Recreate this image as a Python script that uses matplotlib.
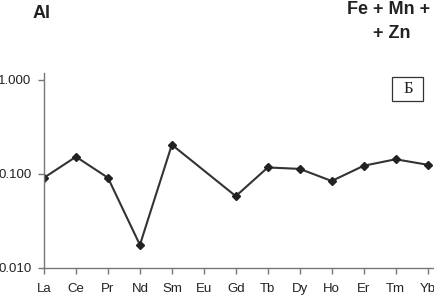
import matplotlib
matplotlib.use("Agg")
import matplotlib.pyplot as plt
from matplotlib.patches import Rectangle
import numpy as np

plt.rcParams["font.family"] = ["Liberation Sans", "DejaVu Sans"]

# ─── data ───
elements = ["La", "Ce", "Pr", "Nd", "Sm", "Eu", "Gd", "Tb", "Dy", "Ho", "Er", "Tm", "Yb"]
values = [0.091, 0.152, 0.091, 0.0176, 0.204, None, 0.058, 0.117, 0.113, 0.084, 0.122, 0.143, 0.125]
yticks = [0.01, 0.1, 1.0]
ytick_labels = ["0.010", "0.100", "1.000"]

fig = plt.figure(figsize=(4.34, 2.96), dpi=100)
ax = fig.add_axes([44 / 434, 28 / 296, 390 / 434, 195 / 296])

x = [i for i, v in enumerate(values) if v is not None]
y = [v for v in values if v is not None]
ax.plot(x, y, color="#333333", lw=1.5, marker="D", ms=4,
        mfc="#222222", mec="#222222")

ax.set_yscale("log")
ax.set_ylim(0.01, 1.18)
ax.set_xlim(0, 12.2)
ax.set_yticks(yticks)
ax.set_yticklabels(ytick_labels)
ax.yaxis.set_minor_locator(matplotlib.ticker.NullLocator())
ax.set_xticks(range(len(elements)))
ax.set_xticklabels(elements)

for s in ["top", "right"]:
    ax.spines[s].set_visible(False)
for s in ["left", "bottom"]:
    ax.spines[s].set_color("#777777")
    ax.spines[s].set_linewidth(1.0)
ax.tick_params(axis="both", colors="#777777", labelcolor="#222222",
               labelsize=9.5, length=4, width=1.0)
ax.tick_params(axis="x", pad=7)
ax.tick_params(axis="y", pad=5)

# panel label box
bw, bh = 31 / 390, 24 / 195
bx, by = 0.933, 0.918
ax.add_patch(Rectangle((bx - bw / 2, by - bh / 2), bw, bh, transform=ax.transAxes,
                       fc="white", ec="#333333", lw=0.9, clip_on=False))
ax.text(bx, by, "Б", transform=ax.transAxes, ha="center", va="center",
        fontsize=12, family="Liberation Serif", color="#222222")

fig.text(42 / 434, 1 - 14 / 296, "Al", ha="center", va="center",
         fontsize=13, fontweight="bold", color="#222222")
fig.text(389 / 434, 1 - 9 / 296, "Fe + Mn +", ha="center", va="center",
         fontsize=13, fontweight="bold", color="#222222")
fig.text(392 / 434, 1 - 33 / 296, "+ Zn", ha="center", va="center",
         fontsize=13, fontweight="bold", color="#222222")

fig.savefig("out.png", dpi=100)
